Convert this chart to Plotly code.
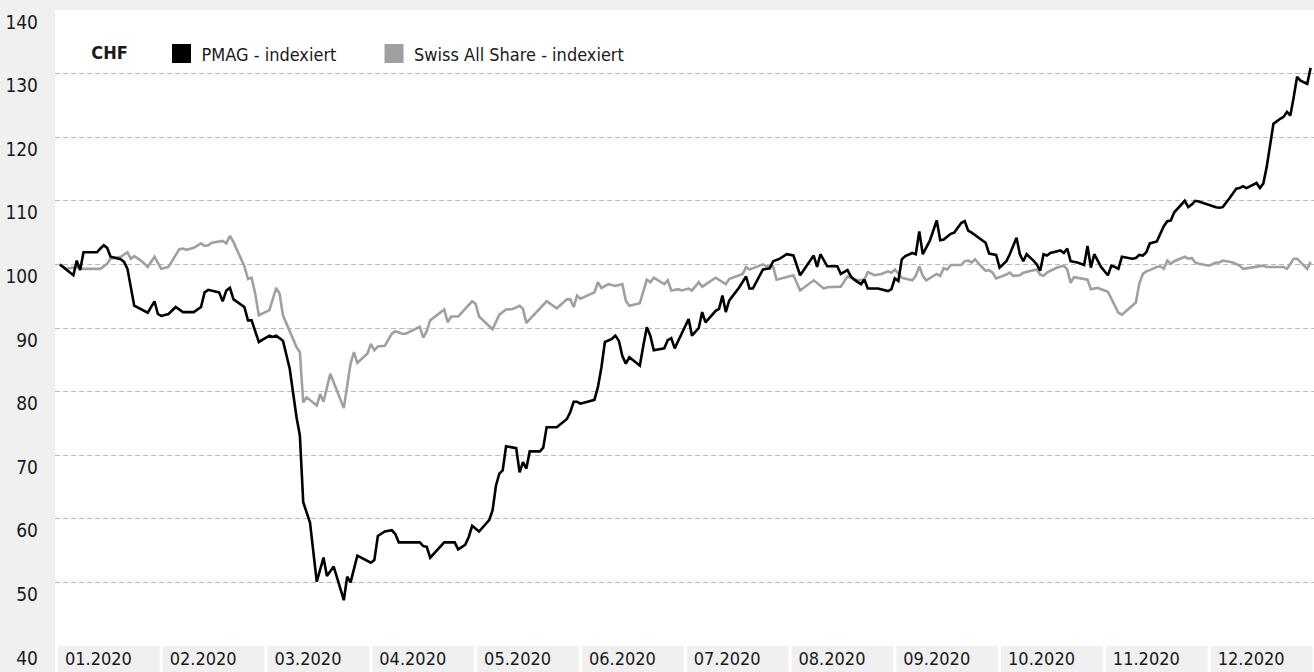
import calendar
from datetime import date

import plotly.graph_objects as go

# PMAG share price, indexed (start = 100)
pmag_dates = [
    "2020-01-02", "2020-01-06", "2020-01-07", "2020-01-08", "2020-01-09", "2020-01-13",
    "2020-01-14", "2020-01-15", "2020-01-16", "2020-01-17", "2020-01-20", "2020-01-21",
    "2020-01-22", "2020-01-23", "2020-01-24", "2020-01-28", "2020-01-30", "2020-01-31",
    "2020-02-01", "2020-02-03", "2020-02-05", "2020-02-07", "2020-02-10", "2020-02-12",
    "2020-02-13", "2020-02-14", "2020-02-17", "2020-02-18", "2020-02-19", "2020-02-20",
    "2020-02-21", "2020-02-24", "2020-02-25", "2020-02-26", "2020-02-28", "2020-03-02",
    "2020-03-03", "2020-03-04", "2020-03-06", "2020-03-08", "2020-03-10", "2020-03-11",
    "2020-03-12", "2020-03-14", "2020-03-16", "2020-03-18", "2020-03-19", "2020-03-21",
    "2020-03-24", "2020-03-25", "2020-03-26", "2020-03-28", "2020-04-01", "2020-04-02",
    "2020-04-03", "2020-04-05", "2020-04-07", "2020-04-08", "2020-04-09", "2020-04-15",
    "2020-04-16", "2020-04-17", "2020-04-18", "2020-04-22", "2020-04-25", "2020-04-26",
    "2020-04-28", "2020-04-29", "2020-04-30", "2020-05-02", "2020-05-05", "2020-05-06",
    "2020-05-07", "2020-05-08", "2020-05-09", "2020-05-10", "2020-05-13", "2020-05-14",
    "2020-05-15", "2020-05-16", "2020-05-17", "2020-05-20", "2020-05-21", "2020-05-22",
    "2020-05-25", "2020-05-28", "2020-05-29", "2020-05-30", "2020-05-31", "2020-06-01",
    "2020-06-05", "2020-06-06", "2020-06-07", "2020-06-08", "2020-06-10", "2020-06-11",
    "2020-06-12", "2020-06-13", "2020-06-14", "2020-06-15", "2020-06-18", "2020-06-19",
    "2020-06-20", "2020-06-21", "2020-06-22", "2020-06-25", "2020-06-26", "2020-06-27",
    "2020-06-28", "2020-06-29", "2020-07-02", "2020-07-03", "2020-07-05", "2020-07-06",
    "2020-07-07", "2020-07-10", "2020-07-11", "2020-07-12", "2020-07-13", "2020-07-14",
    "2020-07-17", "2020-07-19", "2020-07-20", "2020-07-21", "2020-07-24", "2020-07-26",
    "2020-07-27", "2020-07-29", "2020-07-31", "2020-08-02", "2020-08-03", "2020-08-04",
    "2020-08-08", "2020-08-09", "2020-08-10", "2020-08-12", "2020-08-15", "2020-08-16",
    "2020-08-18", "2020-08-19", "2020-08-20", "2020-08-22", "2020-08-23", "2020-08-24",
    "2020-08-27", "2020-08-30", "2020-08-31", "2020-09-01", "2020-09-02", "2020-09-03",
    "2020-09-04", "2020-09-06", "2020-09-07", "2020-09-08", "2020-09-09", "2020-09-11",
    "2020-09-13", "2020-09-14", "2020-09-15", "2020-09-17", "2020-09-18", "2020-09-20",
    "2020-09-21", "2020-09-22", "2020-09-23", "2020-09-25", "2020-09-26", "2020-09-27",
    "2020-09-28", "2020-09-30", "2020-10-01", "2020-10-03", "2020-10-04", "2020-10-06",
    "2020-10-07", "2020-10-08", "2020-10-09", "2020-10-11", "2020-10-12", "2020-10-13",
    "2020-10-14", "2020-10-15", "2020-10-16", "2020-10-19", "2020-10-20", "2020-10-21",
    "2020-10-22", "2020-10-24", "2020-10-26", "2020-10-27", "2020-10-28", "2020-10-29",
    "2020-10-30", "2020-10-31", "2020-11-02", "2020-11-03", "2020-11-04", "2020-11-05",
    "2020-11-06", "2020-11-09", "2020-11-10", "2020-11-11", "2020-11-12", "2020-11-13",
    "2020-11-14", "2020-11-16", "2020-11-18", "2020-11-19", "2020-11-20", "2020-11-21",
    "2020-11-24", "2020-11-25", "2020-11-26", "2020-11-27", "2020-11-28", "2020-12-01",
    "2020-12-02", "2020-12-03", "2020-12-04", "2020-12-05", "2020-12-07", "2020-12-09",
    "2020-12-10", "2020-12-11", "2020-12-12", "2020-12-14", "2020-12-15", "2020-12-16",
    "2020-12-17", "2020-12-18", "2020-12-20", "2020-12-22", "2020-12-23", "2020-12-24",
    "2020-12-25", "2020-12-26", "2020-12-27", "2020-12-28", "2020-12-30", "2020-12-31",
]
pmag_values = [
    100.0, 98.3, 100.6, 99.1, 101.9, 101.9,
    102.5, 103.0, 102.6, 101.2, 100.8, 100.4,
    99.3, 96.2, 93.5, 92.4, 94.2, 92.2,
    91.9, 92.2, 93.3, 92.5, 92.5, 93.3,
    95.6, 96.0, 95.6, 94.2, 95.9, 96.3,
    94.5, 93.3, 91.2, 91.2, 87.8, 88.8,
    88.6, 88.8, 88.0, 83.6, 76.0, 73.1,
    62.6, 59.4, 50.1, 53.9, 51.0, 52.5,
    47.2, 50.9, 50.0, 54.2, 53.1, 53.5,
    57.3, 58.0, 58.2, 57.6, 56.3, 56.3,
    55.7, 55.6, 53.9, 56.3, 56.3, 55.2,
    55.9, 57.1, 58.9, 58.0, 59.8, 61.3,
    65.2, 67.1, 67.6, 71.4, 71.1, 67.3,
    68.9, 67.9, 70.6, 70.6, 71.2, 74.4,
    74.4, 75.7, 76.8, 78.4, 78.4, 78.1,
    78.7, 80.7, 83.8, 87.8, 88.3, 88.8,
    88.0, 85.6, 84.4, 85.4, 84.1, 87.2,
    90.1, 88.8, 86.5, 86.8, 88.1, 88.4,
    86.8, 88.0, 91.4, 88.8, 90.0, 92.5,
    90.9, 92.7, 93.0, 95.1, 92.5, 94.3,
    96.4, 98.1, 96.2, 96.2, 99.2, 99.4,
    100.5, 100.9, 101.6, 101.4, 99.8, 98.3,
    101.4, 99.6, 101.6, 99.7, 99.7, 98.5,
    99.1, 98.1, 97.6, 96.9, 97.6, 96.2,
    96.2, 95.8, 96.1, 97.8, 97.4, 100.8,
    101.3, 101.8, 101.6, 105.2, 101.6, 103.7,
    106.9, 103.8, 103.9, 104.8, 105.0, 106.5,
    106.8, 105.3, 105.0, 104.1, 103.8, 103.4,
    101.7, 101.5, 99.5, 100.5, 101.6, 104.2,
    101.6, 100.5, 101.6, 100.6, 100.0, 99.0,
    101.6, 101.4, 101.8, 102.2, 101.8, 102.5,
    100.5, 100.3, 99.9, 102.9, 99.5, 101.6,
    100.5, 99.6, 98.3, 99.8, 99.6, 99.3,
    101.2, 100.9, 101.0, 101.5, 101.4, 101.9,
    103.3, 103.6, 106.0, 106.8, 106.9, 108.2,
    110.0, 109.0, 109.4, 110.0, 109.9, 109.3,
    109.2, 109.0, 108.9, 109.0, 110.4, 111.9,
    112.0, 112.3, 112.0, 112.5, 112.8, 112.0,
    112.7, 115.3, 122.1, 122.9, 123.2, 124.0,
    123.4, 126.3, 129.5, 128.9, 128.4, 130.9,
]

# Swiss All Share index, indexed (start = 100)
sas_dates = [
    "2020-01-02", "2020-01-04", "2020-01-07", "2020-01-08", "2020-01-14", "2020-01-16",
    "2020-01-17", "2020-01-20", "2020-01-22", "2020-01-23", "2020-01-24", "2020-01-26",
    "2020-01-28", "2020-01-30", "2020-02-01", "2020-02-03", "2020-02-06", "2020-02-07",
    "2020-02-08", "2020-02-10", "2020-02-12", "2020-02-13", "2020-02-14", "2020-02-15",
    "2020-02-18", "2020-02-19", "2020-02-20", "2020-02-21", "2020-02-24", "2020-02-25",
    "2020-02-26", "2020-02-27", "2020-02-28", "2020-03-02", "2020-03-04", "2020-03-05",
    "2020-03-06", "2020-03-10", "2020-03-11", "2020-03-12", "2020-03-13", "2020-03-16",
    "2020-03-17", "2020-03-18", "2020-03-20", "2020-03-24", "2020-03-26", "2020-03-27",
    "2020-03-28", "2020-03-31", "2020-04-01", "2020-04-02", "2020-04-03", "2020-04-05",
    "2020-04-07", "2020-04-08", "2020-04-10", "2020-04-11", "2020-04-15", "2020-04-16",
    "2020-04-17", "2020-04-18", "2020-04-22", "2020-04-23", "2020-04-24", "2020-04-26",
    "2020-04-28", "2020-04-30", "2020-05-01", "2020-05-02", "2020-05-06", "2020-05-08",
    "2020-05-10", "2020-05-12", "2020-05-14", "2020-05-15", "2020-05-16", "2020-05-22",
    "2020-05-25", "2020-05-28", "2020-05-29", "2020-05-30", "2020-05-31", "2020-06-01",
    "2020-06-05", "2020-06-06", "2020-06-07", "2020-06-09", "2020-06-11", "2020-06-13",
    "2020-06-14", "2020-06-15", "2020-06-18", "2020-06-20", "2020-06-21", "2020-06-22",
    "2020-06-25", "2020-06-26", "2020-06-27", "2020-06-29", "2020-06-30", "2020-07-02",
    "2020-07-03", "2020-07-05", "2020-07-06", "2020-07-10", "2020-07-13", "2020-07-14",
    "2020-07-18", "2020-07-19", "2020-07-20", "2020-07-22", "2020-07-24", "2020-07-25",
    "2020-07-27", "2020-07-28", "2020-08-01", "2020-08-02", "2020-08-04", "2020-08-08",
    "2020-08-11", "2020-08-12", "2020-08-16", "2020-08-18", "2020-08-21", "2020-08-23",
    "2020-08-24", "2020-08-26", "2020-08-28", "2020-08-30", "2020-08-31", "2020-09-01",
    "2020-09-02", "2020-09-03", "2020-09-06", "2020-09-07", "2020-09-08", "2020-09-09",
    "2020-09-10", "2020-09-12", "2020-09-13", "2020-09-14", "2020-09-15", "2020-09-16",
    "2020-09-17", "2020-09-20", "2020-09-21", "2020-09-22", "2020-09-23", "2020-09-24",
    "2020-09-25", "2020-09-27", "2020-09-28", "2020-09-29", "2020-09-30", "2020-10-03",
    "2020-10-04", "2020-10-05", "2020-10-07", "2020-10-08", "2020-10-12", "2020-10-13",
    "2020-10-14", "2020-10-15", "2020-10-18", "2020-10-20", "2020-10-21", "2020-10-22",
    "2020-10-23", "2020-10-25", "2020-10-27", "2020-10-28", "2020-10-30", "2020-11-02",
    "2020-11-03", "2020-11-04", "2020-11-05", "2020-11-06", "2020-11-10", "2020-11-11",
    "2020-11-12", "2020-11-13", "2020-11-14", "2020-11-16", "2020-11-17", "2020-11-18",
    "2020-11-19", "2020-11-20", "2020-11-21", "2020-11-24", "2020-11-25", "2020-11-26",
    "2020-11-27", "2020-11-28", "2020-12-01", "2020-12-03", "2020-12-04", "2020-12-05",
    "2020-12-08", "2020-12-10", "2020-12-11", "2020-12-15", "2020-12-17", "2020-12-18",
    "2020-12-23", "2020-12-24", "2020-12-26", "2020-12-27", "2020-12-30", "2020-12-31",
]
sas_values = [
    100.0, 99.3, 99.6, 99.3, 99.3, 100.1,
    100.9, 101.2, 101.9, 100.9, 101.3, 100.6,
    99.6, 101.2, 99.3, 99.6, 102.4, 102.5,
    102.3, 102.6, 103.3, 102.9, 103.0, 103.4,
    103.7, 103.3, 104.5, 103.5, 99.7, 97.7,
    97.9, 95.4, 92.0, 92.8, 96.3, 95.4,
    92.0, 87.0, 86.2, 78.3, 79.1, 77.8,
    79.6, 78.4, 82.8, 77.4, 84.4, 86.2,
    84.5, 86.0, 87.5, 86.5, 87.1, 87.2,
    89.1, 89.5, 89.1, 89.1, 90.2, 88.5,
    89.5, 91.2, 92.9, 90.9, 91.8, 91.8,
    93.0, 94.2, 93.8, 91.8, 89.8, 92.1,
    92.9, 93.0, 93.5, 93.0, 90.8, 94.2,
    93.1, 94.5, 94.5, 93.3, 95.1, 94.6,
    95.6, 97.2, 96.3, 96.9, 96.6, 96.9,
    94.3, 93.5, 93.9, 97.6, 97.2, 97.9,
    96.9, 97.5, 95.9, 96.1, 95.9, 96.2,
    95.9, 97.2, 96.5, 97.9, 96.9, 97.7,
    98.5, 99.6, 99.2, 99.6, 100.0, 99.7,
    99.7, 97.6, 98.1, 98.3, 95.9, 97.5,
    96.2, 96.4, 96.5, 98.1, 97.5, 97.6,
    98.8, 98.3, 98.5, 98.9, 98.7, 99.2,
    98.6, 97.9, 97.5, 98.2, 99.7, 98.2,
    97.5, 98.2, 98.5, 98.2, 99.4, 99.2,
    99.9, 99.9, 100.5, 100.6, 100.3, 100.8,
    100.1, 99.0, 99.1, 98.7, 97.8, 98.4,
    98.7, 98.2, 98.3, 98.7, 99.2, 98.4,
    98.2, 98.7, 99.5, 99.8, 99.2, 97.1,
    98.0, 97.8, 97.6, 96.1, 96.3, 95.7,
    94.5, 93.5, 92.4, 92.1, 94.0, 97.0,
    98.5, 98.9, 99.1, 99.6, 99.7, 99.3,
    100.6, 100.1, 100.5, 101.2, 100.9, 101.0,
    100.3, 100.1, 99.8, 100.3, 100.3, 100.6,
    100.3, 99.8, 99.3, 99.6, 99.8, 99.6,
    99.6, 99.3, 100.9, 100.9, 99.3, 100.4,
]

month_labels = ["01.2020", "02.2020", "03.2020", "04.2020", "05.2020", "06.2020",
                "07.2020", "08.2020", "09.2020", "10.2020", "11.2020", "12.2020"]
y_ticks = [40, 50, 60, 70, 80, 90, 100, 110, 120, 130, 140]

FONT = "DejaVu Sans Condensed, Liberation Sans Narrow, Arial Narrow, sans-serif"
BLACK = "#000000"
GREY = "#a0a0a0"
TEXT = "#1a1a1a"


def month_pos(s):
    # every month gets the same width on the axis
    d = date.fromisoformat(s)
    days = calendar.monthrange(d.year, d.month)[1]
    return (d.month - 1) + (d.day - 1) / days


fig = go.Figure()

fig.add_trace(go.Scatter(
    x=[month_pos(d) for d in sas_dates], y=sas_values, mode="lines",
    line=dict(color=GREY, width=2.6), showlegend=False, hoverinfo="skip",
))
fig.add_trace(go.Scatter(
    x=[month_pos(d) for d in pmag_dates], y=pmag_values, mode="lines",
    line=dict(color=BLACK, width=2.6), showlegend=False, hoverinfo="skip",
))

# legend keys: filled squares, one legend each so they can be placed freely
fig.add_trace(go.Scatter(
    x=[None], y=[None], mode="markers", name="PMAG - indexiert", legend="legend",
    marker=dict(symbol="square", size=16, color=BLACK, line=dict(color=BLACK, width=3)),
))
fig.add_trace(go.Scatter(
    x=[None], y=[None], mode="markers", name="Swiss All Share - indexiert", legend="legend2",
    marker=dict(symbol="square", size=16, color=GREY, line=dict(color=GREY, width=3)),
))

# white separators between the month boxes under the plot
for i in range(13):
    fig.add_shape(
        type="line", xref="x", yref="paper", x0=i, x1=i, y0=-0.06, y1=0,
        line=dict(color="white", width=3), layer="above",
    )

legend_style = dict(
    orientation="h", yanchor="middle", xanchor="left", y=0.931,
    font=dict(size=18, color=TEXT), bgcolor="rgba(0,0,0,0)", itemsizing="trace",
)

fig.update_layout(
    width=1314,
    height=672,
    margin=dict(l=55, r=0, t=10, b=26),
    paper_bgcolor="#f0f0f0",
    plot_bgcolor="white",
    font=dict(family=FONT, size=18, color=TEXT),
    legend=dict(
        legend_style, x=0.0272,
        title=dict(text="<b>CHF</b>\u00a0\u00a0\u00a0\u00a0\u00a0", font=dict(size=18, color=TEXT)),
    ),
    legend2=dict(legend_style, x=0.2534),
)

fig.update_xaxes(
    range=[-0.014, 12],
    tickvals=[i + 0.4 for i in range(12)],
    ticktext=month_labels,
    showgrid=False, zeroline=False, showline=False,
    ticks="", ticklabelstandoff=0, automargin=False,
    tickfont=dict(size=18, color=TEXT),
)
fig.update_yaxes(
    range=[40, 140],
    tickvals=y_ticks,
    ticktext=[str(v) for v in y_ticks],
    ticks="", ticklabelstandoff=16, ticklabelshift=12, ticklabeloverflow="allow",
    automargin=False,
    showgrid=True, gridcolor="#b8b8b8", gridwidth=1, griddash="5px,3px",
    zeroline=False, showline=False,
    tickfont=dict(size=19, color=TEXT),
)

# the page's default body margin would push the figure 8px off the corner
fig.write_html(
    "out.html",
    config={"displayModeBar": False},
    post_script="document.body.style.margin = '0px';",
)
